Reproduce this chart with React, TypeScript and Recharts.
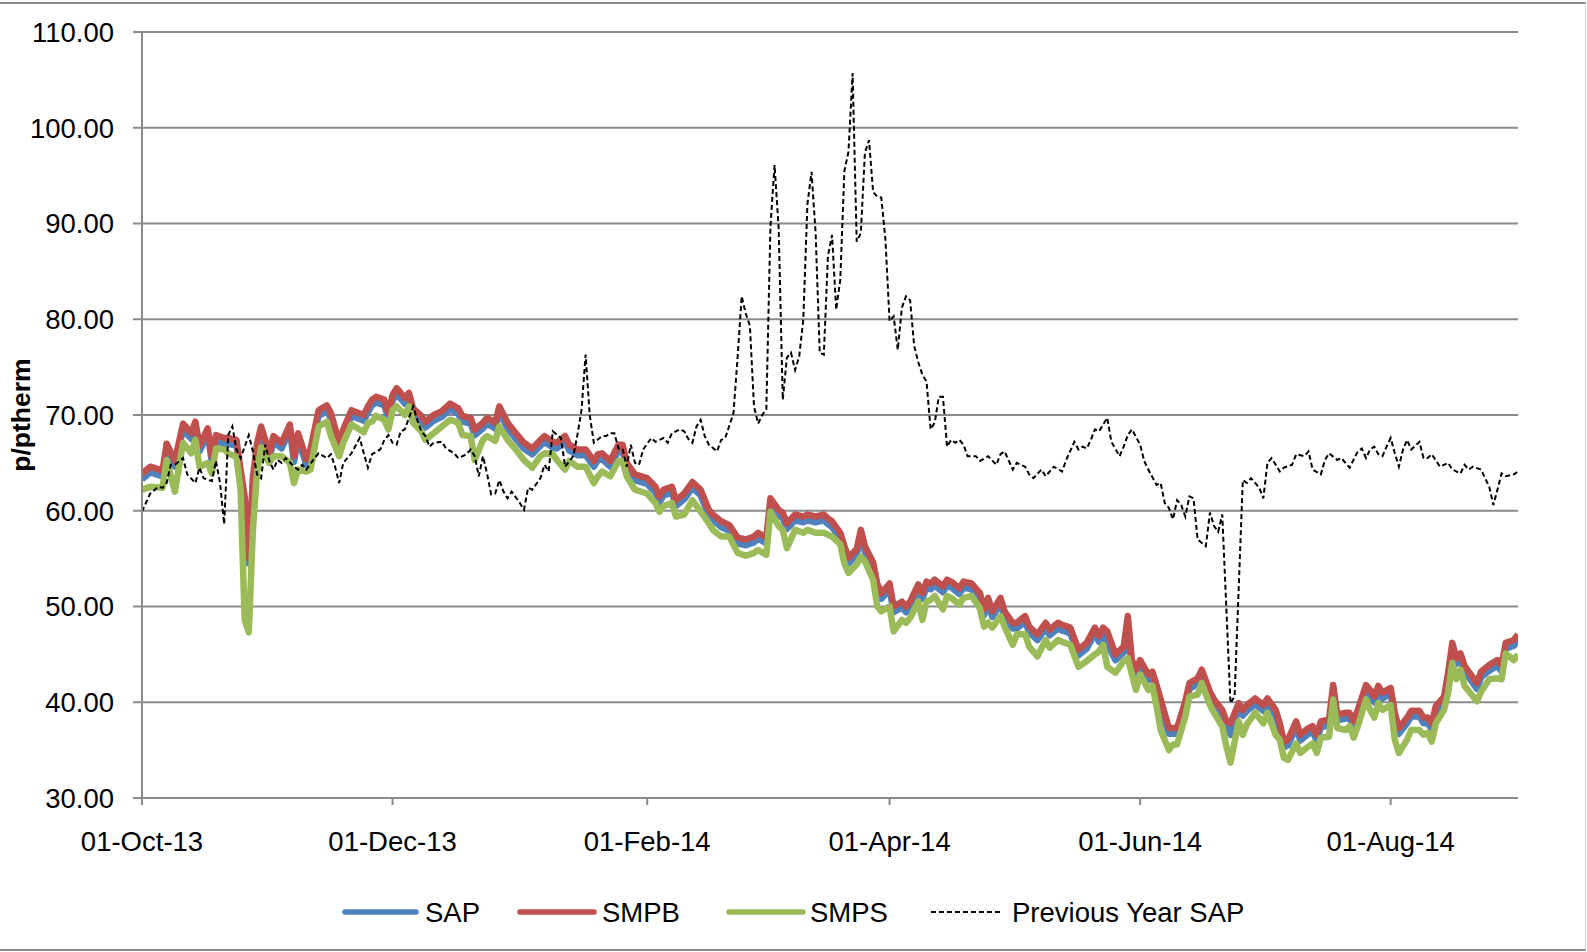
import React from "react";
import { LineChart, Line, XAxis, YAxis, CartesianGrid } from "recharts";

// day index counted from 01-Oct-13
const mainDays = [
  0, 2, 5, 6, 8, 10, 12, 13, 14, 16, 17, 18, 20, 21, 23, 24, 25, 26, 27, 28, 29, 31, 32, 34, 36, 37, 38, 40, 41, 43,
  45, 46, 48, 49, 51, 54, 55, 56, 57, 59, 60, 61, 62, 64, 65, 66, 68, 69, 71, 73, 75, 77, 78, 80, 81, 83, 84, 86, 87, 89,
  91, 93, 95, 97, 98, 100, 101, 103, 104, 106, 108, 110, 111, 112, 114, 116, 117, 118, 120, 123, 125, 126, 127, 129, 130, 132, 134, 136, 138, 139,
  141, 143, 145, 147, 149, 150, 152, 153, 155, 156, 157, 159, 161, 162, 164, 166, 167, 168, 170, 171, 172, 174, 175, 176, 178, 179, 180, 182, 183, 185,
  186, 187, 189, 190, 191, 192, 193, 195, 196, 197, 199, 200, 202, 204, 205, 206, 207, 209, 210, 212, 213, 215, 216, 218, 220, 221, 223, 224, 226, 228,
  230, 232, 233, 234, 235, 237, 239, 240, 241, 242, 243, 245, 246, 247, 248, 250, 251, 252, 254, 255, 257, 258, 260, 261, 263, 264, 265, 267, 268, 269,
  271, 273, 274, 276, 277, 278, 279, 281, 282, 284, 285, 286, 287, 289, 290, 291, 293, 294, 295, 296, 298, 299, 300, 301, 302, 304, 305, 306, 308, 309,
  311, 312, 313, 314, 315, 317, 318, 319, 320, 321, 322, 325, 326, 328, 330, 331, 332, 334, 335,
];

const smpb = [
  63.9, 64.6, 64.2, 67.0, 65.2, 69.1, 68.1, 69.3, 66.8, 68.6, 65.7, 67.9, 67.6, 67.6, 67.4, 64.3, 61.5, 55.1, 63.5, 67.0, 68.8, 66.0, 67.8, 67.1, 69.0, 65.7, 68.1, 65.4, 66.4, 70.5,
  71.0, 70.2, 67.1, 68.5, 70.5, 70.0, 70.9, 71.6, 71.9, 71.6, 70.2, 72.1, 72.8, 71.8, 72.3, 70.7, 69.9, 69.3, 70.0, 70.4, 71.2, 70.7, 69.9, 69.7, 68.5, 69.2, 69.7, 69.2, 70.9, 69.2,
  68.1, 67.1, 66.5, 67.4, 67.8, 67.2, 67.1, 67.8, 66.9, 66.4, 66.4, 65.2, 65.9, 66.0, 65.2, 66.9, 66.9, 65.0, 63.8, 63.4, 62.5, 61.5, 62.2, 62.5, 61.1, 61.8, 63.0, 62.2, 60.1, 59.6,
  58.9, 58.5, 57.2, 57.0, 57.3, 57.7, 57.2, 61.3, 60.1, 59.8, 58.7, 59.6, 59.4, 59.6, 59.4, 59.6, 59.2, 58.9, 57.7, 56.3, 55.1, 56.0, 58.0, 56.3, 54.6, 52.4, 51.4, 52.4, 50.0, 50.5,
  50.0, 50.5, 52.3, 51.4, 52.6, 52.4, 52.8, 52.1, 52.8, 52.6, 51.9, 52.6, 52.4, 51.4, 49.7, 50.9, 49.5, 50.9, 49.5, 48.3, 48.3, 49.0, 47.9, 47.1, 48.3, 47.6, 48.3, 48.1, 47.8, 45.5,
  46.2, 47.8, 46.9, 47.8, 47.4, 45.0, 45.8, 49.0, 44.4, 43.4, 44.4, 42.9, 43.2, 41.8, 40.3, 37.3, 37.3, 37.3, 40.1, 42.0, 42.5, 43.4, 41.1, 40.3, 39.2, 38.0, 37.8, 39.9, 39.2, 39.7,
  40.4, 39.7, 40.4, 39.2, 37.8, 35.9, 36.1, 38.0, 36.6, 37.3, 37.5, 36.6, 38.0, 38.2, 41.8, 38.7, 38.9, 38.9, 38.0, 39.2, 41.8, 41.3, 40.6, 41.7, 41.0, 41.5, 38.9, 37.3, 38.4, 39.1,
  39.1, 38.4, 38.4, 37.8, 39.6, 40.6, 43.1, 46.2, 44.6, 45.1, 43.8, 42.0, 43.2, 43.9, 44.4, 43.8, 46.2, 46.5, 47.1,
];

const sap = [
  63.3, 64.0, 63.6, 66.4, 64.6, 68.5, 67.5, 68.7, 66.2, 68.0, 65.1, 67.3, 67.0, 67.0, 66.8, 63.7, 60.9, 54.5, 62.9, 66.4, 68.2, 65.4, 67.2, 66.5, 68.4, 65.1, 67.5, 64.8, 65.8, 69.9,
  70.4, 69.6, 66.5, 67.9, 69.9, 69.4, 70.3, 71.0, 71.3, 71.0, 69.6, 71.5, 72.2, 71.2, 71.7, 70.1, 69.3, 68.7, 69.4, 69.8, 70.6, 70.1, 69.3, 69.1, 67.9, 68.6, 69.1, 68.6, 70.3, 68.6,
  67.5, 66.5, 65.9, 66.8, 67.2, 66.6, 66.5, 67.2, 66.3, 65.8, 65.8, 64.6, 65.3, 65.4, 64.6, 66.3, 66.3, 64.4, 63.2, 62.8, 61.9, 60.9, 61.6, 61.9, 60.5, 61.2, 62.4, 61.6, 59.5, 59.0,
  58.3, 57.9, 56.6, 56.4, 56.7, 57.1, 56.6, 60.7, 59.5, 59.2, 58.1, 59.0, 58.8, 59.0, 58.8, 59.0, 58.6, 58.3, 57.1, 55.7, 54.5, 55.4, 57.4, 55.7, 54.0, 51.8, 50.8, 51.8, 49.4, 49.9,
  49.4, 49.9, 51.7, 50.8, 52.0, 51.8, 52.2, 51.5, 52.2, 52.0, 51.3, 52.0, 51.8, 50.8, 49.1, 50.3, 48.9, 50.3, 48.9, 47.7, 47.7, 48.4, 47.3, 46.5, 47.7, 47.0, 47.7, 47.5, 47.2, 44.9,
  45.6, 47.2, 46.3, 47.2, 46.0, 44.4, 45.2, 47.0, 43.8, 42.8, 43.8, 42.3, 42.6, 41.2, 39.5, 36.7, 36.7, 36.7, 39.5, 41.4, 41.9, 42.8, 40.5, 39.7, 38.6, 37.4, 36.6, 39.3, 38.6, 39.1,
  39.8, 39.1, 39.8, 38.6, 37.2, 35.3, 35.5, 37.4, 36.0, 36.7, 36.9, 36.0, 37.4, 37.6, 41.2, 38.1, 38.3, 38.3, 37.4, 38.6, 41.2, 40.7, 40.0, 41.1, 40.4, 40.9, 38.3, 36.7, 37.8, 38.5,
  38.5, 37.8, 37.8, 37.2, 39.0, 40.0, 42.5, 45.6, 44.0, 44.5, 43.2, 41.4, 42.6, 43.3, 43.8, 43.2, 45.6, 45.9, 46.5,
];

const smps = [
  62.2, 62.5, 62.4, 65.3, 62.0, 67.1, 66.0, 67.4, 64.6, 65.0, 63.9, 66.5, 66.4, 66.0, 65.6, 62.2, 48.6, 47.3, 58.0, 64.0, 66.6, 65.0, 65.7, 65.7, 65.0, 62.9, 64.3, 64.1, 64.3, 68.8,
  69.3, 67.8, 65.7, 67.1, 69.0, 68.2, 69.2, 69.3, 69.9, 69.5, 68.5, 70.5, 70.9, 70.0, 70.9, 69.2, 68.3, 67.4, 68.1, 68.8, 69.5, 69.2, 67.9, 67.8, 65.3, 67.4, 67.8, 67.3, 68.8, 67.4,
  66.4, 65.3, 64.5, 65.7, 66.0, 65.9, 65.3, 64.3, 65.2, 64.6, 64.6, 62.9, 63.6, 64.1, 63.6, 65.2, 65.2, 63.6, 62.2, 61.8, 60.8, 59.9, 60.5, 60.8, 59.4, 59.6, 61.1, 59.9, 58.7, 58.0,
  57.3, 57.3, 55.6, 55.3, 55.6, 55.9, 55.4, 59.9, 58.4, 58.0, 56.1, 58.0, 57.7, 58.0, 57.7, 57.7, 57.5, 57.3, 56.5, 54.5, 53.5, 54.4, 55.2, 54.7, 52.8, 50.0, 49.5, 50.0, 47.4, 48.6,
  48.3, 48.8, 50.5, 48.6, 50.5, 50.7, 51.1, 49.7, 51.1, 50.9, 50.2, 50.9, 51.1, 49.8, 47.9, 48.3, 47.8, 49.0, 47.9, 46.0, 47.1, 47.1, 45.8, 44.8, 46.5, 45.7, 46.5, 46.3, 46.0, 43.7,
  44.3, 45.0, 45.3, 46.0, 43.7, 43.1, 44.3, 44.6, 42.9, 41.3, 42.9, 41.3, 41.7, 39.6, 37.1, 35.0, 35.6, 35.6, 38.5, 40.6, 40.8, 42.0, 39.7, 38.9, 37.5, 35.4, 33.7, 38.0, 36.6, 37.7,
  38.9, 37.8, 38.9, 36.6, 36.1, 34.2, 34.0, 35.7, 34.7, 35.4, 35.7, 34.7, 36.3, 36.4, 40.3, 37.3, 37.1, 37.5, 36.3, 37.5, 40.3, 39.2, 38.4, 39.9, 39.2, 39.7, 36.1, 34.7, 36.1, 37.1,
  37.1, 36.6, 36.8, 35.9, 37.8, 39.2, 41.0, 44.1, 42.4, 43.4, 41.7, 40.1, 41.1, 42.4, 42.5, 42.4, 45.1, 44.4, 45.0,
];

const prevDays = [
  0, 2, 4, 5, 6, 7, 8, 10, 11, 13, 14, 15, 17, 18, 19, 20, 21, 22, 23, 24, 26, 27, 28, 29, 30, 31, 32, 33, 34, 35,
  37, 38, 39, 40, 42, 43, 45, 46, 47, 48, 49, 51, 53, 54, 55, 56, 58, 59, 60, 61, 62, 63, 64, 66, 67, 68, 69, 70, 71, 73,
  74, 76, 77, 79, 80, 81, 82, 83, 84, 85, 86, 87, 88, 89, 90, 92, 93, 94, 95, 97, 98, 99, 100, 102, 103, 105, 106, 107, 108, 109,
  110, 112, 113, 114, 115, 116, 117, 118, 119, 120, 121, 122, 124, 125, 127, 128, 129, 131, 132, 133, 134, 135, 136, 137, 138, 140, 141, 142, 144, 145,
  146, 147, 148, 149, 150, 151, 152, 153, 154, 155, 156, 157, 158, 159, 160, 161, 162, 163, 164, 165, 166, 167, 168, 169, 170, 171, 172, 173, 174, 175,
  176, 177, 178, 179, 180, 181, 182, 183, 184, 185, 186, 187, 188, 189, 190, 191, 192, 193, 194, 195, 196, 197, 198, 199, 200, 201, 203, 204, 206, 208,
  209, 210, 212, 213, 215, 216, 217, 219, 220, 222, 224, 225, 227, 228, 229, 230, 231, 232, 233, 235, 236, 238, 239, 240, 241, 243, 244, 245, 247, 248,
  249, 250, 251, 252, 253, 254, 255, 256, 257, 259, 260, 261, 262, 263, 265, 266, 268, 269, 270, 272, 273, 274, 275, 277, 278, 280, 281, 283, 284, 285,
  287, 288, 289, 291, 292, 294, 296, 297, 298, 299, 300, 301, 302, 303, 304, 305, 306, 307, 308, 309, 311, 312, 313, 314, 316, 318, 319, 321, 322, 323,
  324, 326, 327, 328, 329, 330, 331, 332, 334, 335,
];

const prevSap = [
  59.9, 61.8, 62.5, 62.4, 62.9, 64.8, 64.8, 65.5, 63.8, 62.9, 64.5, 63.4, 63.1, 65.2, 62.9, 58.6, 67.9, 68.8, 66.4, 65.5, 67.9, 66.2, 63.8, 63.4, 66.9, 65.2, 64.3, 65.3, 65.0, 65.5,
  64.6, 64.3, 64.8, 64.3, 65.5, 66.0, 65.5, 65.9, 64.6, 62.9, 65.0, 66.0, 67.6, 66.0, 64.5, 65.9, 66.4, 67.4, 67.9, 67.1, 66.9, 68.3, 68.5, 70.9, 69.5, 68.3, 67.8, 66.7, 67.1, 67.2,
  66.5, 66.0, 65.5, 65.9, 66.4, 65.7, 63.6, 65.7, 63.9, 61.7, 61.8, 63.2, 62.0, 61.3, 62.0, 60.8, 60.1, 62.4, 62.2, 63.4, 64.8, 64.1, 68.3, 67.6, 64.6, 65.7, 67.9, 70.5, 76.3, 70.0,
  67.1, 67.8, 67.8, 68.1, 68.1, 66.5, 66.5, 64.6, 66.9, 65.0, 64.8, 66.4, 67.6, 67.2, 67.6, 67.1, 68.1, 68.5, 68.3, 67.5, 67.1, 68.8, 69.5, 67.8, 66.9, 66.2, 67.4, 67.6, 70.2, 76.0,
  82.4, 80.6, 79.3, 70.9, 69.1, 70.0, 70.6, 89.7, 96.1, 89.5, 71.6, 76.0, 76.5, 74.7, 76.1, 80.0, 92.0, 95.4, 89.0, 76.5, 76.3, 86.6, 88.8, 81.0, 84.1, 95.5, 97.5, 105.7, 88.1, 89.0,
  97.4, 98.7, 93.3, 92.8, 92.7, 88.3, 79.8, 80.3, 76.8, 81.2, 82.4, 82.0, 77.2, 75.5, 74.2, 73.5, 68.5, 69.2, 71.9, 71.9, 66.7, 67.4, 67.1, 67.4, 66.9, 65.7, 65.7, 65.2, 65.7, 64.8,
  65.9, 66.2, 64.3, 65.0, 64.6, 63.8, 63.4, 64.3, 63.6, 64.6, 64.1, 65.3, 67.2, 66.4, 66.7, 66.5, 67.4, 68.5, 68.3, 69.7, 67.2, 65.7, 66.7, 67.9, 68.5, 66.9, 65.2, 64.3, 62.7, 62.9,
  60.8, 60.3, 59.1, 61.1, 60.6, 59.4, 61.5, 61.3, 57.0, 56.3, 59.8, 58.4, 57.8, 59.6, 39.9, 40.6, 63.2, 62.9, 63.4, 62.4, 61.3, 65.0, 65.5, 64.1, 64.5, 64.8, 65.9, 65.7, 66.2, 64.3,
  63.8, 65.3, 66.0, 65.3, 65.5, 64.5, 66.2, 66.5, 65.5, 66.4, 66.7, 65.9, 65.7, 66.7, 67.6, 66.0, 64.6, 66.4, 67.4, 66.4, 67.2, 65.5, 65.5, 65.9, 64.6, 65.0, 64.3, 63.9, 64.8, 64.3,
  64.6, 64.3, 63.4, 62.5, 60.6, 62.2, 63.9, 63.6, 63.8, 64.1,
];

const tickDays = [0, 61, 123, 182, 243, 304];
const tickLabels = ["01-Oct-13", "01-Dec-13", "01-Feb-14", "01-Apr-14", "01-Jun-14", "01-Aug-14"];
const yTicks = [30, 40, 50, 60, 70, 80, 90, 100, 110];

const mainData = mainDays.map((day, i) => ({ day, sap: sap[i], smpb: smpb[i], smps: smps[i] }));
const prevData = prevDays.map((day, i) => ({ day, prev: prevSap[i] }));

const FONT = "'Liberation Sans', Arial, sans-serif";
const GRID = "#8a8a8a";
const FS = 27.5;
const LW = 6.5;

function AxisTitle() {
  return (
    <text
      x={21}
      y={415}
      transform="rotate(-90 21 415)"
      textAnchor="middle"
      dominantBaseline="central"
      fontFamily={FONT}
      fontSize={26.5}
      fontWeight="bold"
      fill="#000"
    >
      p/ptherm
    </text>
  );
}

function LegendRow() {
  const items = [
    { name: "SAP", x1: 345, x2: 416, tx: 425, color: "#4F81BD", dash: undefined, w: 5.5 },
    { name: "SMPB", x1: 520, x2: 594, tx: 602, color: "#C0504D", dash: undefined, w: 5.5 },
    { name: "SMPS", x1: 729, x2: 803, tx: 810, color: "#9BBB59", dash: undefined, w: 5.5 },
    { name: "Previous Year SAP", x1: 931, x2: 1003, tx: 1012, color: "#000", dash: "5 3", w: 2 },
  ];
  return (
    <svg width={1587} height={60} style={{ position: "absolute", left: 0, top: 882 }}>
      {items.map((it) => (
        <g key={it.name}>
          <line x1={it.x1} x2={it.x2} y1={30} y2={30} stroke={it.color} strokeWidth={it.w} strokeDasharray={it.dash} strokeLinecap={it.dash ? "butt" : "round"} />
          <text x={it.tx} y={30} dominantBaseline="central" fontFamily={FONT} fontSize={FS} fill="#000">
            {it.name}
          </text>
        </g>
      ))}
    </svg>
  );
}

export default function App() {
  return (
    <div style={{ position: "absolute", left: 0, top: 0, width: 1587, height: 952, background: "#fff" }}>
      <div
        style={{
          position: "absolute",
          left: 0,
          top: 2,
          width: 1586,
          height: 949,
          boxSizing: "border-box",
          borderTop: `2px solid ${GRID}`,
          borderBottom: `2px solid ${GRID}`,
          borderRight: "1px solid #d6d6d6",
        }}
      />
      <LineChart width={1587} height={952} margin={{ top: 32, right: 69, left: 0, bottom: 94 }}>
        <CartesianGrid horizontal vertical={false} stroke={GRID} strokeWidth={2} />
        <XAxis
          type="number"
          dataKey="day"
          domain={[0, 335]}
          ticks={tickDays}
          tickFormatter={(v: number) => tickLabels[tickDays.indexOf(v)] ?? ""}
          height={60}
          allowDataOverflow
          stroke={GRID}
          strokeWidth={2}
          tickSize={7}
          tickMargin={26}
          tick={{ fill: "#000", fontFamily: FONT, fontSize: FS }}
        />
        <YAxis
          type="number"
          domain={[30, 110]}
          ticks={yTicks}
          width={142}
          allowDataOverflow
          tickFormatter={(v: number) => v.toFixed(2)}
          stroke={GRID}
          strokeWidth={2}
          tickSize={9}
          tickMargin={19}
          tick={{ fill: "#000", fontFamily: FONT, fontSize: FS }}
          label={{ content: () => <AxisTitle /> }}
        />
        <Line data={mainData} dataKey="sap" stroke="#4F81BD" strokeWidth={LW} dot={false} activeDot={false} strokeLinejoin="round" isAnimationActive={false} />
        <Line data={mainData} dataKey="smpb" stroke="#C0504D" strokeWidth={LW} dot={false} activeDot={false} strokeLinejoin="round" isAnimationActive={false} />
        <Line data={mainData} dataKey="smps" stroke="#9BBB59" strokeWidth={LW} dot={false} activeDot={false} strokeLinejoin="round" isAnimationActive={false} />
        <Line data={prevData} dataKey="prev" stroke="#000" strokeWidth={2} strokeDasharray="5 3" dot={false} activeDot={false} isAnimationActive={false} />
      </LineChart>
      <LegendRow />
    </div>
  );
}
